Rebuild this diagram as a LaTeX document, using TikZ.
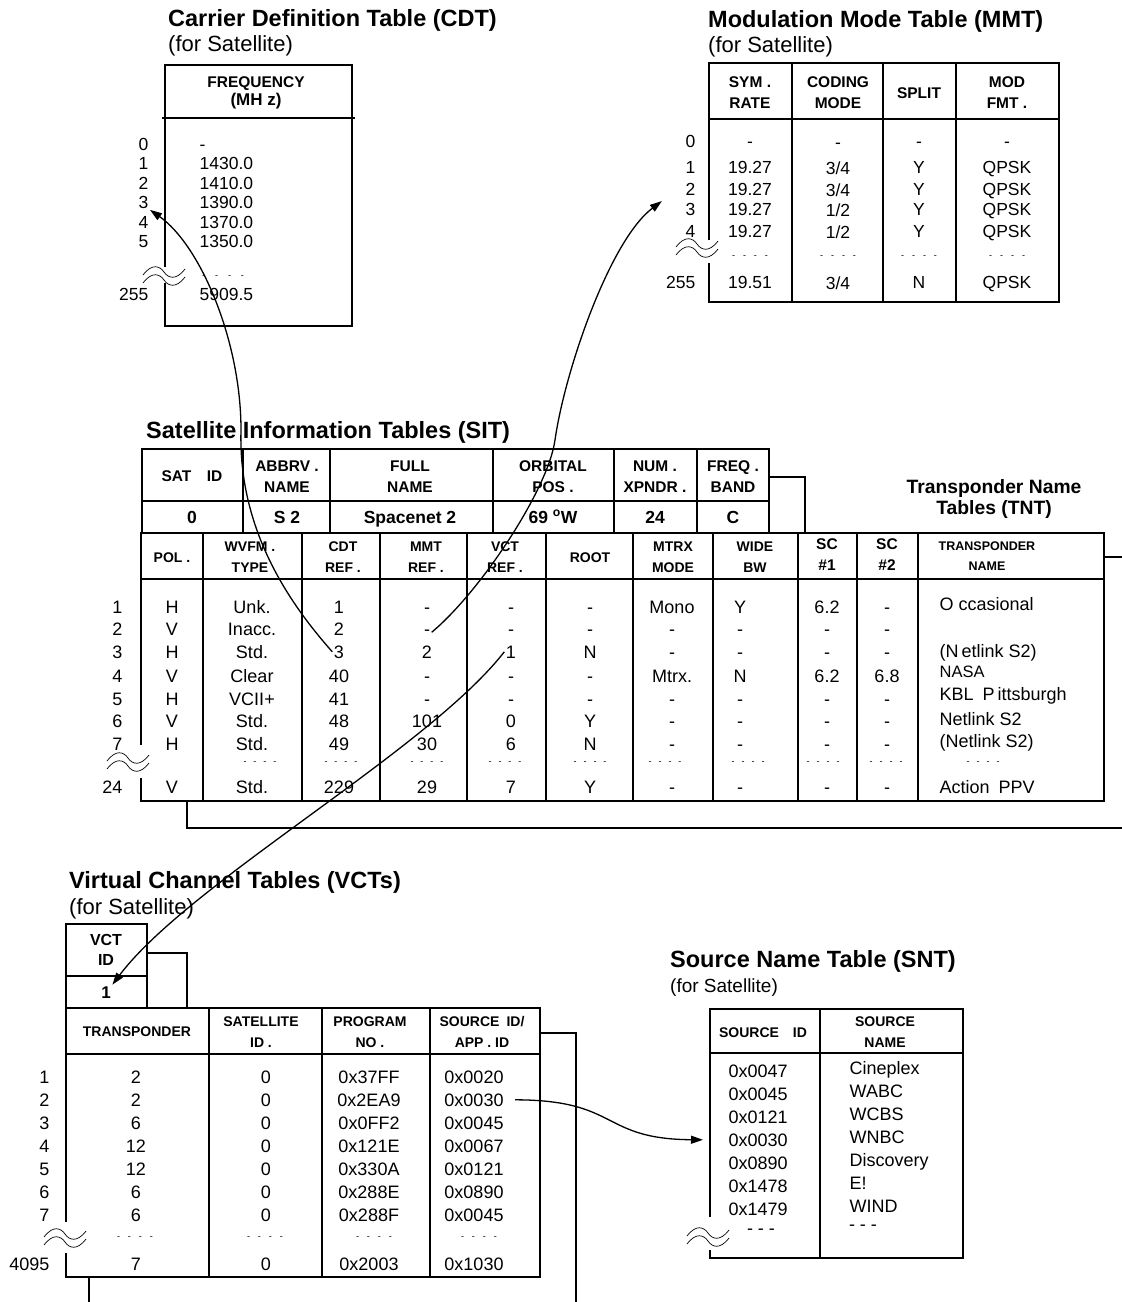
\documentclass[tikz,border=0pt]{standalone}
\usepackage{fontspec}
\setmainfont{Liberation Sans}
\usetikzlibrary{arrows.meta}
\newcommand{\fsz}[2]{\fontsize{#1}{#2}\selectfont}
\newcommand{\dotrow}[1][7pt]{-\hspace{#1}-\hspace{#1}-\hspace{#1}-}
\tikzset{
  tblline/.style={line width=2.1pt},
  colline/.style={line width=1.5pt},
  ttl/.style={font=\bfseries\fsz{23.5}{26}, anchor=base west, inner sep=0pt},
  subttl/.style={font=\fsz{22}{24}, anchor=base west, inner sep=0pt},
  hdr/.style={font=\bfseries\fsz{14}{21}, align=center, inner sep=0pt},
  bighdr/.style={hdr, font=\bfseries\fsz{15.5}{21}},
  val/.style={font=\fsz{18}{20}, anchor=base, inner sep=1.5pt},
  lval/.style={val, anchor=base west},
  lbl/.style={val, anchor=base east},
  dotsrow/.style={font=\fsz{9}{10}, inner sep=0pt},
  refarrow/.style={-{Triangle[length=12pt,width=8pt]}, line width=1.3pt},
  brk/.pic={
    \draw[line width=0.7pt] (-21,3) .. controls (-12,-9) and (-4,-6) .. (0,0) .. controls (4,6) and (12,9) .. (21,-3);
    \draw[line width=0.7pt] (-21,11) .. controls (-12,-1) and (-4,2) .. (0,8) .. controls (4,14) and (12,17) .. (21,5);
  }
}
\begin{document}
\begin{tikzpicture}[x=1pt, y=-1pt]
\useasboundingbox (0,0) rectangle (1122,1302);

% Carrier Definition Table
\node[ttl] (cdtT) at (168,26) {Carrier Definition Table (CDT)};
\node[subttl] (cdtS) at (168,51) {(for Satellite)};
\draw[tblline] (165,267) -- (165,65) -- (352,65) -- (352,326) -- (165,326) -- (165,283);
\draw[colline] (162,118) -- (355,118);
\node[bighdr, font=\bfseries\fsz{15.5}{18}] (cdtH) at (256,93) {FREQUENCY\\{\fsz{17}{18}(MH z)}};
\foreach \r/\y/\v in {0/150/-, 1/169/1430.0, 2/189/1410.0, 3/208/1390.0, 4/228/1370.0, 5/247/1350.0, 255/300/5909.5} {
  \node[lbl, font=\fsz{17.5}{20}] (cdt-l\r) at (150,\y) {\r};
  \node[lval, font=\fsz{17.5}{20}] (cdt-v\r) at (198,\y) {\v};
}
\node[dotsrow] (cdt-dots) at (223,277) {\dotrow[10pt]};
\pic at (164,272) {brk};

% Modulation Mode Table
\node[ttl] (mmtT) at (708,27) {Modulation Mode Table (MMT)};
\node[subttl] (mmtS) at (708,52) {(for Satellite)};
\draw[tblline] (709,240) -- (709,63) -- (1059,63) -- (1059,302) -- (709,302) -- (709,263);
\draw[colline] (709,119) -- (1059,119);
\foreach \x in {792,883,956} \draw[colline] (\x,63) -- (\x,302);
\node[bighdr] (mmtH1) at (750,93) {SYM .\\RATE};
\node[bighdr] (mmtH2) at (838,93) {CODING\\MODE};
\node[bighdr] (mmtH3) at (919,93) {SPLIT};
\node[bighdr] (mmtH4) at (1007,93) {MOD\\FMT .};
\foreach \r/\y/\a/\b/\s/\m in {0/147/-/-/-/-, 1/173/19.27/{3/4}/Y/QPSK, 2/195/19.27/{3/4}/Y/QPSK,
    3/215/19.27/{1/2}/Y/QPSK, 4/237/19.27/{1/2}/Y/QPSK, 255/288/19.51/{3/4}/N/QPSK} {
  \node[lbl, font=\fsz{17.5}{20}] (mmt-l\r) at (697,\y) {\r};
  \node[val, font=\fsz{17.5}{20}] (mmt-\r-1) at (750,\y) {\a};
  \node[val, font=\fsz{17.5}{20}] (mmt-\r-2) at (838,\y+1) {\b};
  \node[val, font=\fsz{17.5}{20}] (mmt-\r-3) at (919,\y) {\s};
  \node[val, font=\fsz{17.5}{20}] (mmt-\r-4) at (1007,\y) {\m};
}
\foreach \x [count=\ci] in {750,838,919,1007}
  \node[dotsrow] (mmt-dots\ci) at (\x,257) {\dotrow[8pt]};
\pic at (697,244) {brk};

% Satellite Information Tables
\node[ttl] (sitT) at (146,438) {Satellite Information Tables (SIT)};
\draw[tblline] (142,449) rectangle (769,533);
\draw[colline] (142,501) -- (769,501);
\foreach \x in {243,330,493,614,697} \draw[colline] (\x,449) -- (\x,533);
\draw[tblline] (769,477) -| (805,533);
\node[bighdr] (sitH1) at (192,476) {SAT\quad ID};
\node[bighdr] (sitH2) at (287,477) {ABBRV .\\NAME};
\node[bighdr] (sitH3) at (410,477) {FULL\\NAME};
\node[bighdr] (sitH4) at (553,477) {ORBITAL\\POS .};
\node[bighdr] (sitH5) at (655,477) {NUM .\\XPNDR .};
\node[bighdr] (sitH6) at (733,477) {FREQ .\\BAND};
\foreach \x/\v [count=\ci] in {192/0, 287/S 2, 410/Spacenet 2, 553/69 \textsuperscript{o}W, 655/24, 733/C}
  \node[val, font=\bfseries\fsz{17.5}{20}] (sat-\ci) at (\x,523) {\v};
% satellite body
\draw[tblline] (141,745) -- (141,533) -- (1104,533) -- (1104,801) -- (141,801) -- (141,778);
\draw[colline] (141,579) -- (1104,579);
\foreach \x in {203,302,380,467,546,633,713,798,857,918} \draw[colline] (\x,533) -- (\x,801);
\draw[tblline] (1104,557) -- (1130,557);
\draw[tblline] (187,801) -- (187,828) -- (1130,828);
\node[font=\bfseries\fsz{19.3}{21}, align=center, inner sep=0pt] (tntT) at (994,499) {Transponder Name\\Tables (TNT)};
\node[hdr] (sitB1) at (172,558) {POL .};
\node[hdr] (sitB2) at (250,557) {WVFM .\\TYPE};
\node[hdr] (sitB3) at (343,557) {CDT\\REF .};
\node[hdr] (sitB4) at (426,557) {MMT\\REF .};
\node[hdr] (sitB5) at (505,557) {VCT\\REF .};
\node[hdr] (sitB6) at (590,558) {ROOT};
\node[hdr] (sitB7) at (673,557) {MTRX\\MODE};
\node[hdr] (sitB8) at (755,557) {WIDE\\BW};
\node[bighdr] (sitB9) at (827,555) {SC\\\#1};
\node[bighdr] (sitB10) at (887,555) {SC\\\#2};
\node[hdr, font=\bfseries\fsz{12.5}{20}] (sitB11) at (987,556) {TRANSPONDER\\NAME};
\foreach \r/\y/\vals in {
    1/613/{H,Unk.,1,-,-,-,Mono,Y,6.2,-},
    2/635/{V,Inacc.,2,-,-,-,-,-,-,-},
    3/658/{H,Std.,3,2,1,N,-,-,-,-},
    4/682/{V,Clear,40,-,-,-,Mtrx.,N,6.2,6.8},
    5/705/{H,VCII+,41,-,-,-,-,-,-,-},
    6/727/{V,Std.,48,101,0,Y,-,-,-,-},
    7/750/{H,Std.,49,30,6,N,-,-,-,-},
    24/793/{V,Std.,229,29,7,Y,-,-,-,-}} {
  \node[lbl] (sit-l\r) at (124,\y) {\r};
  \foreach \v [count=\ci] in \vals {
    \pgfmathsetmacro\xx{{172,252,339,427,511,590,672,740,827,887}[\ci-1]}
    \node[val] (sit-\r-\ci) at (\xx,\y) {\v};
  }
}
\foreach \r/\y/\n in {1/610/O ccasional, 3/657/(N\,etlink S2), 5/700/KBL\enspace P\,ittsburgh,
    6/725/Netlink S2, 7/747/(Netlink S2), 24/793/Action\enspace PPV}
  \node[lval] (tnt-\r) at (938,\y) {\n};
\node[lval, font=\fsz{16.5}{18}] (tnt-4) at (938,677) {NASA};
\foreach \x [count=\ci] in {260,341,427,505,590,665,748,823,886,983}
  \node[dotsrow] (sit-dots\ci) at (\x,763) {\dotrow};
\pic at (128,758) {brk};

% Virtual Channel Tables
\node[ttl] (vctT) at (69,888) {Virtual Channel Tables (VCTs)};
\node[subttl] (vctS) at (69,914) {(for Satellite)};
\draw[tblline] (66,924) rectangle (147,1008);
\draw[colline] (66,976) -- (147,976);
\draw[tblline] (147,953) -| (187,1008);
\node[bighdr, font=\bfseries\fsz{16}{20}] (vctH) at (106,950) {VCT\\ID};
\node[val, font=\bfseries\fsz{17}{20}] (vctid) at (106,998) {1};
\draw[tblline] (66,1222) -- (66,1008) -- (540,1008) -- (540,1277) -- (66,1277) -- (66,1253);
\draw[colline] (66,1054) -- (540,1054);
\foreach \x in {209,322,430} \draw[colline] (\x,1008) -- (\x,1277);
\draw[tblline] (540,1033) -| (576,1310);
\draw[tblline] (89,1277) -- (89,1310);
\node[hdr] (vctB1) at (137,1032) {TRANSPONDER};
\node[hdr] (vctB2) at (261,1032) {SATELLITE\\ID .};
\node[hdr] (vctB3) at (370,1032) {PROGRAM\\NO .};
\node[hdr] (vctB4) at (482,1032) {SOURCE\enspace ID/\\APP . ID};
\foreach \r/\y/\a/\b/\p/\s in {1/1083/2/0/0x37FF/0x0020, 2/1106/2/0/0x2EA9/0x0030, 3/1129/6/0/0x0FF2/0x0045,
    4/1152/12/0/0x121E/0x0067, 5/1175/12/0/0x330A/0x0121, 6/1198/6/0/0x288E/0x0890,
    7/1221/6/0/0x288F/0x0045, 4095/1270/7/0/0x2003/0x1030} {
  \node[lbl] (vct-l\r) at (51,\y) {\r};
  \node[val] (vct-\r-1) at (136,\y) {\a};
  \node[val] (vct-\r-2) at (266,\y) {\b};
  \node[val] (vct-\r-3) at (369,\y) {\p};
  \node[val] (vct-\r-4) at (474,\y) {\s};
}
\foreach \x [count=\ci] in {135,265,374,479}
  \node[dotsrow] (vct-dots\ci) at (\x,1238) {\dotrow[8pt]};
\pic at (65,1234) {brk};

% Source Name Table
\node[ttl] (sntT) at (670,967) {Source Name Table (SNT)};
\node[subttl, font=\fsz{19}{22}] (sntS) at (670,992) {(for Satellite)};
\draw[tblline] (710,1217) -- (710,1009) -- (963,1009) -- (963,1258) -- (710,1258) -- (710,1250);
\draw[colline] (710,1053) -- (963,1053);
\draw[colline] (820,1009) -- (820,1258);
\node[hdr] (sntH1) at (763,1033) {SOURCE\quad ID};
\node[hdr] (sntH2) at (885,1032) {SOURCE\\NAME};
\foreach \r/\y/\id/\nm in {1/1077/0x0047/Cineplex, 2/1100/0x0045/WABC, 3/1123/0x0121/WCBS, 4/1146/0x0030/WNBC,
    5/1169/0x0890/Discovery, 6/1192/0x1478/E!, 7/1215/0x1479/WIND} {
  \node[lval] (snt-\r-id) at (727,\y) {\id};
  \node[lval] (snt-\r-nm) at (848,\y-3) {\nm};
}
\node[font=\fsz{18}{20}, inner sep=0pt] (snt-dots1) at (761,1232) {- - -};
\node[font=\fsz{18}{20}, inner sep=0pt] (snt-dots2) at (863,1228) {- - -};
\pic at (708,1233) {brk};

% references between tables
\coordinate (cdtvia) at (241,430);
\coordinate (mmtvia) at (555,440);
\draw[refarrow] (sit-3-3.west) .. controls (290,604) and (238,530) .. (cdtvia)
  .. controls (241,340) and (200,245) .. (cdt-l3.south east);
\draw[refarrow] (sit-2-4.east) .. controls (480,592) and (548,490) .. (mmtvia)
  .. controls (565,370) and (610,240) .. ([xshift=-22pt]mmt-l3.north west);
\draw[refarrow] (sit-3-5.west) .. controls (428,750) and (189,883) .. (vctid.north east);
\draw[refarrow] ([xshift=10pt]vct-2-4.east) .. controls (620,1100) and (600,1139) .. ([xshift=-24pt]snt-4-id.west);
\end{tikzpicture}
\end{document}
